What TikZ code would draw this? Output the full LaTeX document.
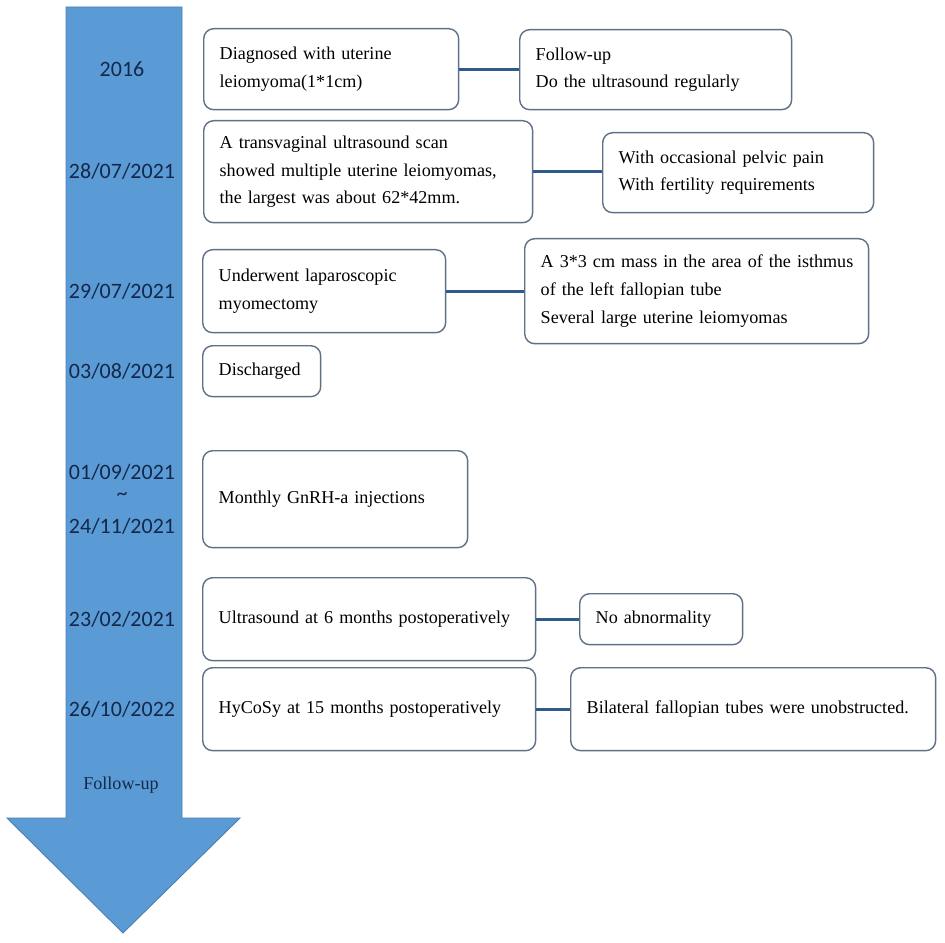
\documentclass[tikz,border=0pt]{standalone}
\usepackage{fontspec}
\setmainfont{Liberation Serif}
\newfontfamily\datefont{Carlito}
\usepackage{tikz}
\usetikzlibrary{positioning}
\definecolor{arrowblue}{HTML}{5B9BD5}
\definecolor{arrowedge}{HTML}{4A7EB0}
\definecolor{boxedge}{HTML}{5E7187}
\definecolor{linkblue}{HTML}{2F5B8A}
\definecolor{datenavy}{HTML}{14284B}
\tikzset{
  event/.style={draw=boxedge, line width=0.8pt, rounded corners=0.2cm, fill=white,
    anchor=north west, align=left, inner xsep=0.32cm, inner ysep=0pt,
    font=\fontsize{10.3}{15.9}\selectfont},
  datelabel/.style={text=datenavy, inner sep=0.5pt, font=\datefont\fontsize{12.5}{14}\selectfont},
  link/.style={draw=linkblue, line width=1.7pt}
}

\begin{document}
\begin{tikzpicture}[x=0.02cm,y=-0.02cm]
%Pixelraster: 1 Einheit = 1 px, y zeigt nach unten
\useasboundingbox[fill=white] (0,0) rectangle (945,942);
%Zeitpfeil
\draw[arrowedge,fill=arrowblue,line width=0.5pt] (66,7) -- (182,7) -- (182,818) -- (240,818)
  -- (123,933) -- (7,818) -- (66,818) -- cycle;
\coordinate (axis) at (122,0);
%Ereignisse
\node[event,text width=4.46cm,minimum height=1.62cm] (diag) at (203,28) {Diagnosed with uterine\\leiomyoma(1*1cm)};
\node[event,text width=4.80cm,minimum height=1.60cm] (folg) at (519,29) {Follow-up\\Do the ultrasound regularly};
\node[event,text width=5.94cm,minimum height=2.04cm] (scan) at (203,120) {A transvaginal ultrasound scan\\showed multiple uterine leiomyomas,\\the largest was about 62*42mm.};
\node[event,text width=4.78cm,minimum height=1.60cm] (pain) at (602,132) {With occasional pelvic pain\\With fertility requirements};
\node[event,text width=4.22cm,minimum height=1.66cm] (op) at (202,249) {Underwent laparoscopic\\myomectomy};
\node[event,text width=6.24cm,minimum height=2.10cm] (mass) at (524,238) {\mbox{A 3*3 cm mass in the area of the isthmus}\\of the left fallopian tube\\Several large uterine leiomyomas};
\node[event,text width=1.72cm,minimum height=1.02cm] (entl) at (202,345) {Discharged};
\node[event,text width=4.66cm,minimum height=1.94cm] (gnrh) at (202,450) {Monthly GnRH-a injections};
\node[event,text width=6.02cm,minimum height=1.66cm] (us) at (202,577) {Ultrasound at 6 months postoperatively};
\node[event,text width=2.62cm,minimum height=1.02cm] (ok) at (579,593) {No abnormality};
\node[event,text width=6.02cm,minimum height=1.66cm] (hyco) at (202,667) {HyCoSy at 15 months postoperatively};
\node[event,text width=6.66cm,minimum height=1.66cm] (tube) at (570,667) {Bilateral fallopian tubes were unobstructed.};
%Verbindungen
\draw[link] (diag.east) -- (diag.east -| folg.west);
\draw[link] (scan.east) -- (scan.east -| pain.west);
\draw[link] (op.east) -- (op.east -| mass.west);
\draw[link] (us.east) -- (us.east -| ok.west);
\draw[link] (hyco.east) -- (hyco.east -| tube.west);
%Daten auf dem Pfeil
\foreach \ev/\datum in {diag/2016, scan/{28/07/2021}, op/{29/07/2021}, entl/{03/08/2021},
  us/{23/02/2021}, hyco/{26/10/2022}}{
\node[datelabel] (d-\ev) at (axis |- \ev) {\datum};
}
\node[datelabel] (d-bis) at ([yshift=0.05cm]axis |- gnrh) {\textasciitilde};
\node[datelabel] (d-von) at ([yshift=0.53cm]axis |- gnrh) {01/09/2021};
\node[datelabel] (d-end) at ([yshift=-0.55cm]axis |- gnrh) {24/11/2021};
\node[text=datenavy,font=\fontsize{10.3}{12}\selectfont] (fu) at (121,785) {Follow-up};
\end{tikzpicture}
\end{document}
